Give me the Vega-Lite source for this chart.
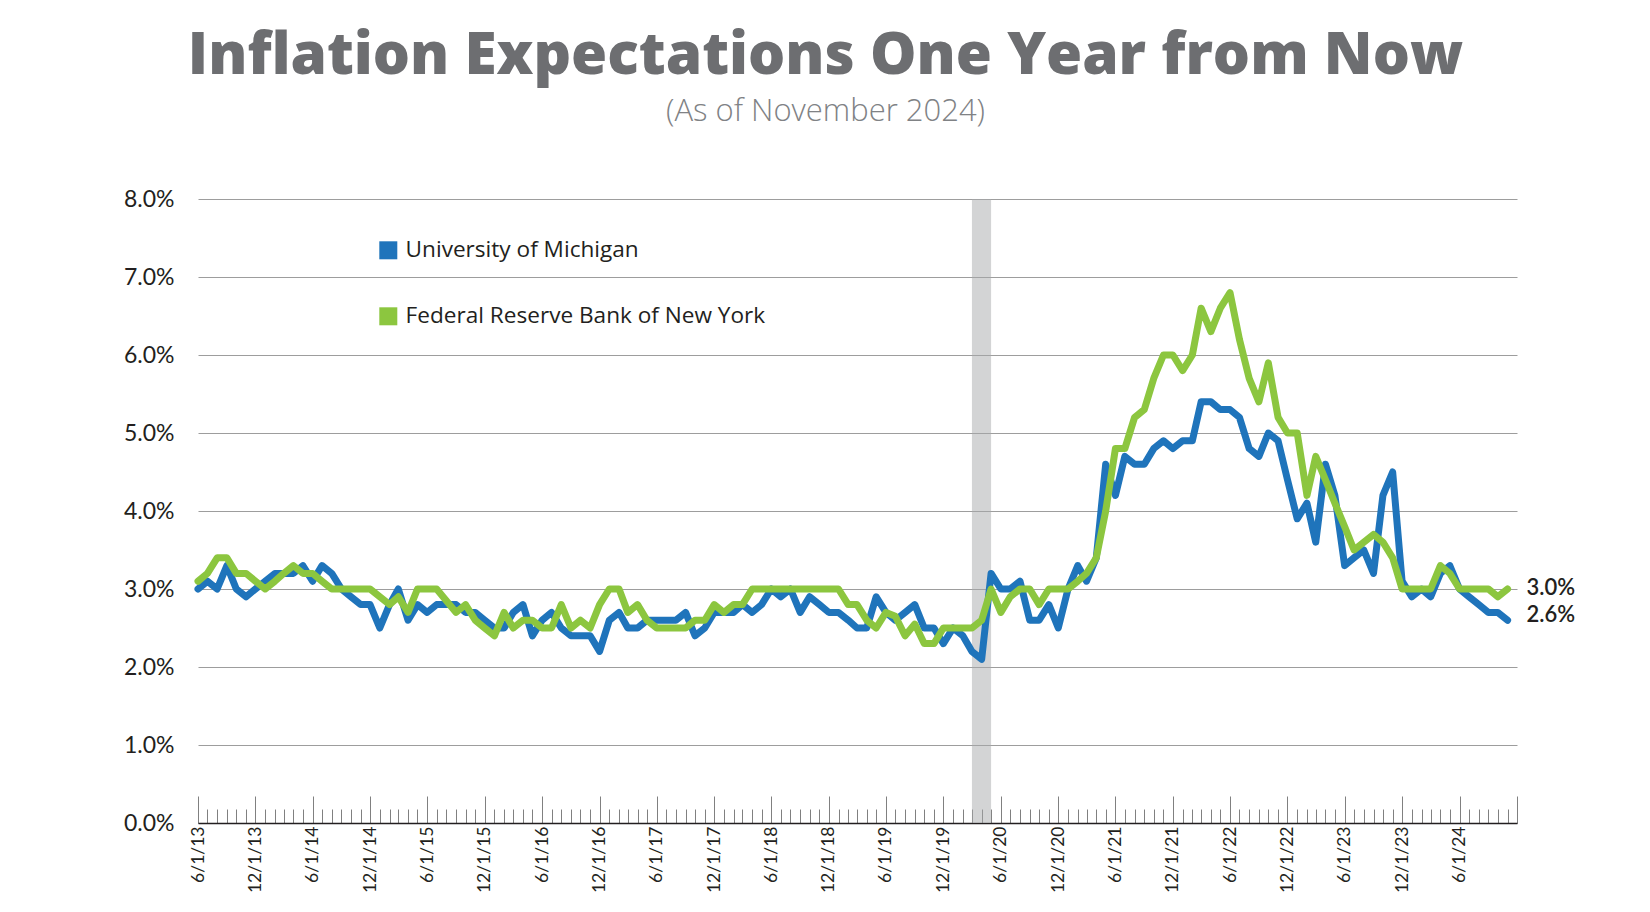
{
  "$schema": "https://vega.github.io/schema/vega-lite/v6.json",
  "width": 1319,
  "height": 624,
  "autosize": {"type": "none"},
  "padding": {"left": 198, "top": 199, "right": 133, "bottom": 89},
  "background": "white",
  "config": {"view": {"stroke": null}, "font": "Lato"},
  "title": {
    "text": "Inflation Expectations One Year from Now",
    "subtitle": "(As of November 2024)",
    "anchor": "middle",
    "dx": -32,
    "font": "Open Sans",
    "fontSize": 58.5,
    "fontWeight": 800,
    "color": "#6d6e71",
    "subtitleFont": "Open Sans",
    "subtitleFontSize": 31,
    "subtitleFontWeight": 300,
    "subtitleColor": "#808285",
    "subtitlePadding": 11,
    "offset": 60
  },
  "datasets": {
    "main": [
      {"d":"2013-06-01","um":3.0,"ny":3.1},
      {"d":"2013-07-01","um":3.1,"ny":3.2},
      {"d":"2013-08-01","um":3.0,"ny":3.4},
      {"d":"2013-09-01","um":3.3,"ny":3.4},
      {"d":"2013-10-01","um":3.0,"ny":3.2},
      {"d":"2013-11-01","um":2.9,"ny":3.2},
      {"d":"2013-12-01","um":3.0,"ny":3.1},
      {"d":"2014-01-01","um":3.1,"ny":3.0},
      {"d":"2014-02-01","um":3.2,"ny":3.1},
      {"d":"2014-03-01","um":3.2,"ny":3.2},
      {"d":"2014-04-01","um":3.2,"ny":3.3},
      {"d":"2014-05-01","um":3.3,"ny":3.2},
      {"d":"2014-06-01","um":3.1,"ny":3.2},
      {"d":"2014-07-01","um":3.3,"ny":3.1},
      {"d":"2014-08-01","um":3.2,"ny":3.0},
      {"d":"2014-09-01","um":3.0,"ny":3.0},
      {"d":"2014-10-01","um":2.9,"ny":3.0},
      {"d":"2014-11-01","um":2.8,"ny":3.0},
      {"d":"2014-12-01","um":2.8,"ny":3.0},
      {"d":"2015-01-01","um":2.5,"ny":2.9},
      {"d":"2015-02-01","um":2.8,"ny":2.8},
      {"d":"2015-03-01","um":3.0,"ny":2.9},
      {"d":"2015-04-01","um":2.6,"ny":2.7},
      {"d":"2015-05-01","um":2.8,"ny":3.0},
      {"d":"2015-06-01","um":2.7,"ny":3.0},
      {"d":"2015-07-01","um":2.8,"ny":3.0},
      {"d":"2015-08-01","um":2.8,"ny":2.85},
      {"d":"2015-09-01","um":2.8,"ny":2.7},
      {"d":"2015-10-01","um":2.7,"ny":2.8},
      {"d":"2015-11-01","um":2.7,"ny":2.6},
      {"d":"2015-12-01","um":2.6,"ny":2.5},
      {"d":"2016-01-01","um":2.5,"ny":2.4},
      {"d":"2016-02-01","um":2.5,"ny":2.7},
      {"d":"2016-03-01","um":2.7,"ny":2.5},
      {"d":"2016-04-01","um":2.8,"ny":2.6},
      {"d":"2016-05-01","um":2.4,"ny":2.6},
      {"d":"2016-06-01","um":2.6,"ny":2.5},
      {"d":"2016-07-01","um":2.7,"ny":2.5},
      {"d":"2016-08-01","um":2.5,"ny":2.8},
      {"d":"2016-09-01","um":2.4,"ny":2.5},
      {"d":"2016-10-01","um":2.4,"ny":2.6},
      {"d":"2016-11-01","um":2.4,"ny":2.5},
      {"d":"2016-12-01","um":2.2,"ny":2.8},
      {"d":"2017-01-01","um":2.6,"ny":3.0},
      {"d":"2017-02-01","um":2.7,"ny":3.0},
      {"d":"2017-03-01","um":2.5,"ny":2.7},
      {"d":"2017-04-01","um":2.5,"ny":2.8},
      {"d":"2017-05-01","um":2.6,"ny":2.6},
      {"d":"2017-06-01","um":2.6,"ny":2.5},
      {"d":"2017-07-01","um":2.6,"ny":2.5},
      {"d":"2017-08-01","um":2.6,"ny":2.5},
      {"d":"2017-09-01","um":2.7,"ny":2.5},
      {"d":"2017-10-01","um":2.4,"ny":2.6},
      {"d":"2017-11-01","um":2.5,"ny":2.6},
      {"d":"2017-12-01","um":2.7,"ny":2.8},
      {"d":"2018-01-01","um":2.7,"ny":2.7},
      {"d":"2018-02-01","um":2.7,"ny":2.8},
      {"d":"2018-03-01","um":2.8,"ny":2.8},
      {"d":"2018-04-01","um":2.7,"ny":3.0},
      {"d":"2018-05-01","um":2.8,"ny":3.0},
      {"d":"2018-06-01","um":3.0,"ny":3.0},
      {"d":"2018-07-01","um":2.9,"ny":3.0},
      {"d":"2018-08-01","um":3.0,"ny":3.0},
      {"d":"2018-09-01","um":2.7,"ny":3.0},
      {"d":"2018-10-01","um":2.9,"ny":3.0},
      {"d":"2018-11-01","um":2.8,"ny":3.0},
      {"d":"2018-12-01","um":2.7,"ny":3.0},
      {"d":"2019-01-01","um":2.7,"ny":3.0},
      {"d":"2019-02-01","um":2.6,"ny":2.8},
      {"d":"2019-03-01","um":2.5,"ny":2.8},
      {"d":"2019-04-01","um":2.5,"ny":2.6},
      {"d":"2019-05-01","um":2.9,"ny":2.5},
      {"d":"2019-06-01","um":2.7,"ny":2.7},
      {"d":"2019-07-01","um":2.6,"ny":2.65},
      {"d":"2019-08-01","um":2.7,"ny":2.4},
      {"d":"2019-09-01","um":2.8,"ny":2.55},
      {"d":"2019-10-01","um":2.5,"ny":2.3},
      {"d":"2019-11-01","um":2.5,"ny":2.3},
      {"d":"2019-12-01","um":2.3,"ny":2.5},
      {"d":"2020-01-01","um":2.5,"ny":2.5},
      {"d":"2020-02-01","um":2.4,"ny":2.5},
      {"d":"2020-03-01","um":2.2,"ny":2.5},
      {"d":"2020-04-01","um":2.1,"ny":2.6},
      {"d":"2020-05-01","um":3.2,"ny":3.0},
      {"d":"2020-06-01","um":3.0,"ny":2.7},
      {"d":"2020-07-01","um":3.0,"ny":2.9},
      {"d":"2020-08-01","um":3.1,"ny":3.0},
      {"d":"2020-09-01","um":2.6,"ny":3.0},
      {"d":"2020-10-01","um":2.6,"ny":2.8},
      {"d":"2020-11-01","um":2.8,"ny":3.0},
      {"d":"2020-12-01","um":2.5,"ny":3.0},
      {"d":"2021-01-01","um":3.0,"ny":3.0},
      {"d":"2021-02-01","um":3.3,"ny":3.1},
      {"d":"2021-03-01","um":3.1,"ny":3.2},
      {"d":"2021-04-01","um":3.4,"ny":3.4},
      {"d":"2021-05-01","um":4.6,"ny":4.0},
      {"d":"2021-06-01","um":4.2,"ny":4.8},
      {"d":"2021-07-01","um":4.7,"ny":4.8},
      {"d":"2021-08-01","um":4.6,"ny":5.2},
      {"d":"2021-09-01","um":4.6,"ny":5.3},
      {"d":"2021-10-01","um":4.8,"ny":5.7},
      {"d":"2021-11-01","um":4.9,"ny":6.0},
      {"d":"2021-12-01","um":4.8,"ny":6.0},
      {"d":"2022-01-01","um":4.9,"ny":5.8},
      {"d":"2022-02-01","um":4.9,"ny":6.0},
      {"d":"2022-03-01","um":5.4,"ny":6.6},
      {"d":"2022-04-01","um":5.4,"ny":6.3},
      {"d":"2022-05-01","um":5.3,"ny":6.6},
      {"d":"2022-06-01","um":5.3,"ny":6.8},
      {"d":"2022-07-01","um":5.2,"ny":6.2},
      {"d":"2022-08-01","um":4.8,"ny":5.7},
      {"d":"2022-09-01","um":4.7,"ny":5.4},
      {"d":"2022-10-01","um":5.0,"ny":5.9},
      {"d":"2022-11-01","um":4.9,"ny":5.2},
      {"d":"2022-12-01","um":4.4,"ny":5.0},
      {"d":"2023-01-01","um":3.9,"ny":5.0},
      {"d":"2023-02-01","um":4.1,"ny":4.2},
      {"d":"2023-03-01","um":3.6,"ny":4.7},
      {"d":"2023-04-01","um":4.6,"ny":4.4},
      {"d":"2023-05-01","um":4.2,"ny":4.1},
      {"d":"2023-06-01","um":3.3,"ny":3.8},
      {"d":"2023-07-01","um":3.4,"ny":3.5},
      {"d":"2023-08-01","um":3.5,"ny":3.6},
      {"d":"2023-09-01","um":3.2,"ny":3.7},
      {"d":"2023-10-01","um":4.2,"ny":3.6},
      {"d":"2023-11-01","um":4.5,"ny":3.4},
      {"d":"2023-12-01","um":3.1,"ny":3.0},
      {"d":"2024-01-01","um":2.9,"ny":3.0},
      {"d":"2024-02-01","um":3.0,"ny":3.0},
      {"d":"2024-03-01","um":2.9,"ny":3.0},
      {"d":"2024-04-01","um":3.2,"ny":3.3},
      {"d":"2024-05-01","um":3.3,"ny":3.2},
      {"d":"2024-06-01","um":3.0,"ny":3.0},
      {"d":"2024-07-01","um":2.9,"ny":3.0},
      {"d":"2024-08-01","um":2.8,"ny":3.0},
      {"d":"2024-09-01","um":2.7,"ny":3.0},
      {"d":"2024-10-01","um":2.7,"ny":2.9},
      {"d":"2024-11-01","um":2.6,"ny":3.0}
    ],
    "recession": [{"start": "2020-03-01", "end": "2020-05-01"}]
  },
  "layer": [
    {
      "data": {"name": "recession"},
      "mark": {"type": "rect", "color": "#a7a9ac", "opacity": 0.5},
      "encoding": {
        "x": {"field": "start", "type": "temporal", "title": null,
              "scale": {"type": "utc", "domain": [{"year": 2013, "month": 6, "date": 1, "utc": true}, {"year": 2024, "month": 12, "date": 1, "utc": true}]}},
        "x2": {"field": "end"}
      }
    },
    {
      "data": {"name": "main"},
      "transform": [{"fold": ["um", "ny"], "as": ["series", "value"]}],
      "mark": {"type": "line", "strokeWidth": 7, "strokeJoin": "round", "strokeCap": "round"},
      "encoding": {
        "x": {
          "field": "d", "type": "temporal", "title": null,
          "scale": {"type": "utc", "domain": [{"year": 2013, "month": 6, "date": 1, "utc": true}, {"year": 2024, "month": 12, "date": 1, "utc": true}]},
          "axis": {
            "orient": "bottom",
            "tickCount": {"interval": "month", "step": 1},
            "labelExpr": "((utcmonth(datum.value) == 5 || utcmonth(datum.value) == 11) && !(utcyear(datum.value) == 2024 && utcmonth(datum.value) == 11)) ? utcFormat(datum.value, '%-m/%-d/%y') : ''",
            "labelAngle": -90,
            "labelAlign": "right",
            "labelBaseline": "middle",
            "labelFont": "Lato",
            "labelFontSize": 17.5,
            "labelColor": "#231f20",
            "labelPadding": 30,
            "labelOverlap": false,
            "labelFlush": false,
            "labelBound": false,
            "grid": false,
            "domainColor": "#231f20",
            "domainWidth": 1.5,
            "tickColor": "#808080",
            "tickWidth": 1,
            "tickSize": {"condition": {"test": "utcmonth(datum.value) == 5 || utcmonth(datum.value) == 11", "value": -27}, "value": -14}
          }
        },
        "y": {
          "field": "value", "type": "quantitative", "title": null,
          "scale": {"domain": [0, 8], "nice": false},
          "axis": {
            "values": [0, 1, 2, 3, 4, 5, 6, 7, 8],
            "labelExpr": "format(datum.value, '.1f') + '%'",
            "labelFont": "Lato",
            "labelFontSize": 23,
            "labelColor": "#231f20",
            "labelPadding": 24,
            "domain": false,
            "ticks": false,
            "grid": true,
            "gridColor": "#9d9d9d",
            "gridWidth": 1
          }
        },
        "color": {
          "field": "series", "type": "nominal",
          "scale": {"domain": ["um", "ny"], "range": ["#1f74bb", "#8cc63f"]},
          "legend": {
            "orient": "none",
            "legendX": 179,
            "legendY": 40,
            "title": null,
            "padding": 0,
            "symbolType": "square",
            "symbolSize": 324,
            "symbolStrokeWidth": 0,
            "labelFont": "Open Sans",
            "labelFontSize": 22.6,
            "labelColor": "#231f20",
            "labelOffset": 6,
            "labelLimit": 0,
            "rowPadding": 43,
            "labelExpr": "datum.label == 'um' ? 'University of Michigan' : 'Federal Reserve Bank of New York'",
            "encode": {"symbols": {"update": {"fill": {"scale": "color", "field": "value"}, "strokeWidth": {"value": 0}, "opacity": {"value": 1}}}}
          }
        }
      }
    },
    {
      "data": {"name": "main"},
      "transform": [
        {"filter": "utcyear(datum.d) == 2024 && utcmonth(datum.d) == 10"},
        {"calculate": "format(datum.ny, '.1f') + '%'", "as": "lbl"}
      ],
      "mark": {"type": "text", "align": "left", "baseline": "middle", "dx": 19, "dy": -1, "font": "Lato", "fontSize": 22, "fontWeight": 600, "color": "#231f20"},
      "encoding": {
        "x": {"field": "d", "type": "temporal"},
        "y": {"field": "ny", "type": "quantitative"},
        "text": {"field": "lbl"}
      }
    },
    {
      "data": {"name": "main"},
      "transform": [
        {"filter": "utcyear(datum.d) == 2024 && utcmonth(datum.d) == 10"},
        {"calculate": "format(datum.um, '.1f') + '%'", "as": "lbl"}
      ],
      "mark": {"type": "text", "align": "left", "baseline": "middle", "dx": 19, "dy": -5, "font": "Lato", "fontSize": 22, "fontWeight": 600, "color": "#231f20"},
      "encoding": {
        "x": {"field": "d", "type": "temporal"},
        "y": {"field": "um", "type": "quantitative"},
        "text": {"field": "lbl"}
      }
    }
  ]
}
